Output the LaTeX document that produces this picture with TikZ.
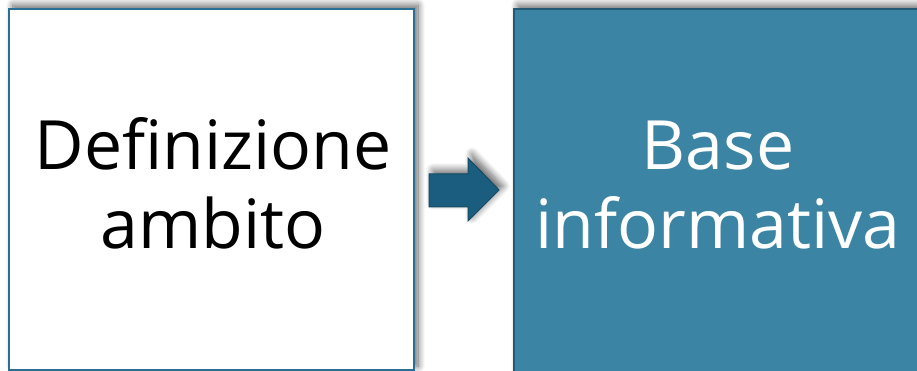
\documentclass[tikz,border=0pt]{standalone}
\usepackage{fontspec}
\setmainfont{Open Sans}
\usetikzlibrary{shadows.blur}
\definecolor{boxline}{HTML}{2A6F92}
\definecolor{boxfill}{HTML}{3C84A3}
\definecolor{arrowfill}{HTML}{1B5D7E}
\definecolor{arrowline}{HTML}{154B66}
\tikzset{
  shadowed/.style={blur shadow={shadow xshift=4pt, shadow yshift=4pt, shadow blur steps=10, shadow blur radius=7pt, shadow opacity=60}},
  lbl/.style={font=\fontsize{68}{78}\selectfont, anchor=base, inner sep=0pt},
}
\begin{document}
\begin{tikzpicture}[x=1pt,y=-1pt]
\useasboundingbox (0,0) rectangle (917,371);
\draw[boxline, line width=2pt, fill=white, shadowed] (9,9) rectangle (414,370);
\draw[boxline!80!black, line width=1.5pt, fill=boxfill, shadowed] (514,9) rectangle (940,400);
\node[lbl, text=black] (l1) at (213,170) {Definizione};
\node[lbl, text=black] (l2) at (213,248) {ambito};
\node[lbl, text=white] (r1) at (718,170) {Base};
\node[lbl, text=white] (r2) at (718,248) {informativa};
\draw[arrowline, line width=1pt, fill=arrowfill, shadowed] (429,174) -- (468,174) -- (468,158) -- (499,190) -- (468,221) -- (468,207) -- (429,207) -- cycle;
\end{tikzpicture}
\end{document}
